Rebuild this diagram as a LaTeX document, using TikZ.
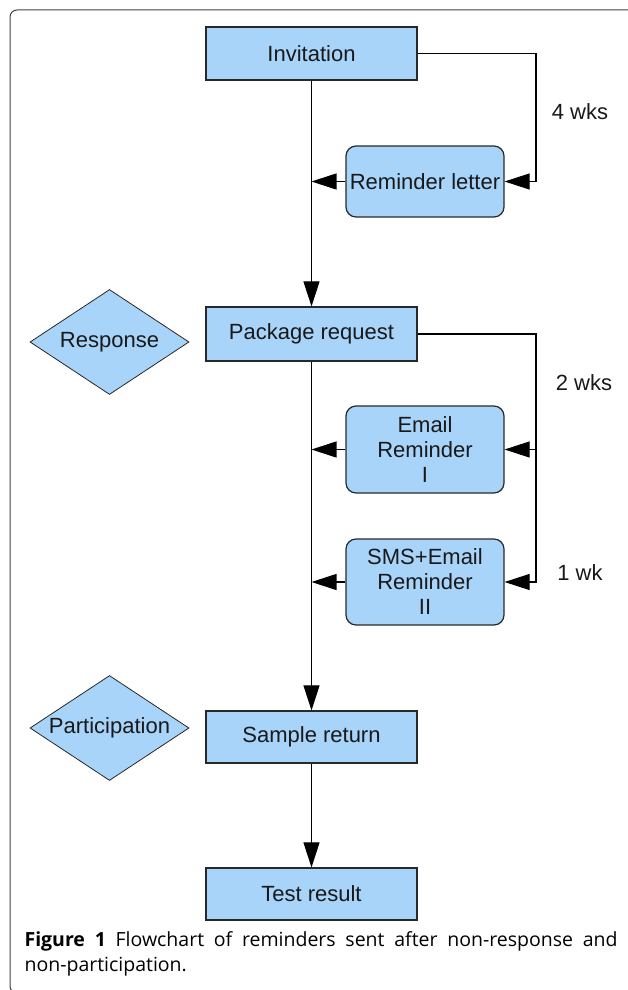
\documentclass[tikz,border=0pt]{standalone}
\usepackage{fontspec}
\setmainfont{Liberation Sans}
\newfontfamily\capfont{Open Sans}
\usepackage{tikz}
\usetikzlibrary{shapes.geometric,arrows.meta}
\definecolor{boxblue}{RGB}{168,212,250}
\definecolor{edgegray}{RGB}{40,40,40}

\begin{document}
\begin{tikzpicture}[->,>={Triangle[length=25pt,width=16pt]},x=1pt,y=-1pt]
    \tikzstyle{every node}=[font=\fontsize{22}{25}\selectfont,text=black!90];
    \tikzstyle{every path}=[line width=1.1pt];
    \tikzstyle{stepbox}=[draw=edgegray,fill=boxblue,line width=1.2pt,minimum width=211pt,minimum height=53pt,inner sep=0pt];
    \tikzstyle{remind}=[draw=edgegray,fill=boxblue,line width=1.2pt,rounded corners=10pt,minimum width=158pt,inner sep=0pt,align=center];
    \tikzstyle{check}=[diamond,aspect=1.5,draw=edgegray,fill=boxblue,line width=0.8pt,minimum width=159pt,minimum height=105pt,inner sep=0pt];
    \useasboundingbox (0,0) rectangle (627,990);
    \draw[-,draw=black!75,line width=1pt,rounded corners=7pt] (10,10) rectangle (645,993);

    \node at (311.5, 53.5) (s0) [stepbox] {Invitation};
    \node at (425, 181.5)  (r0) [remind,minimum height=71pt] {Reminder letter};
    \node at (311.5, 334)  (s1) [stepbox,minimum height=54pt] {Package request};
    \node at (109.5, 342)  (d0) [check] {Response};
    \node at (425, 449.5)  (r1) [remind,minimum height=87pt] {Email\\Reminder\\I};
    \node at (425, 582)    (r2) [remind,minimum height=86pt] {SMS+Email\\Reminder\\II};
    \node at (311.5, 737)  (s2) [stepbox,minimum height=52pt] {Sample return};
    \node at (109.5, 728)  (d1) [check] {Participation};
    \node at (311.5, 894)  (s3) [stepbox,minimum height=52pt] {Test result};

    \node at (580, 112) (w4) {4 wks};
    \node at (584, 383) (w2) {2 wks};
    \node at (580, 573) (w1) {1 wk};
    \coordinate (rail) at (536, 0);

    \draw (s0) to (s1);
    \draw (s1) to (s2);
    \draw (s2) to (s3);
    \draw (s0.east) -| (rail |- r0.east) -- (r0.east);
    \draw (r0.west) -- (r0.west -| s0.south);
    \draw (s1.east) -| (rail |- r2.east) -- (r2.east);
    \draw (rail |- r1.east) -- (r1.east);
    \draw (r1.west) -- (r1.west -| s1.south);
    \draw (r2.west) -- (r2.west -| s1.south);

    \node at (24, 931) (cap) [anchor=north west,text width=593pt,align=justify,inner sep=0pt,text=black,font=\capfont\fontsize{19.5}{25}\selectfont]
      {\textbf{Figure 1} Flowchart of reminders sent after non-response and\linebreak non-participation.};
\end{tikzpicture}
\end{document}
